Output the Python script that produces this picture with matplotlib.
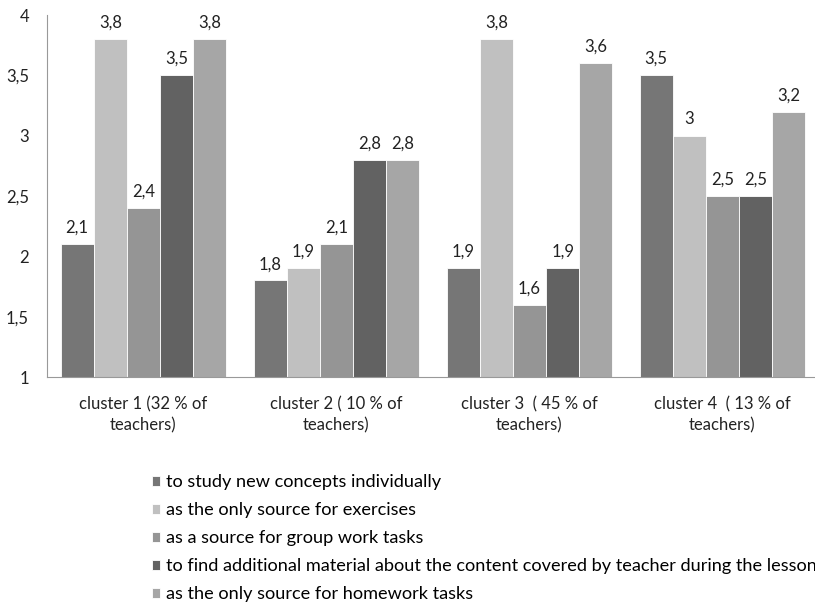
import matplotlib

matplotlib.use("Agg")

import matplotlib.pyplot as plt
import matplotlib.patheffects as pe
import numpy as np

clusters = [
    "cluster 1 (32 % of\nteachers)",
    "cluster 2 ( 10 % of\nteachers)",
    "cluster 3  ( 45 % of\nteachers)",
    "cluster 4  ( 13 % of\nteachers)",
]
series_names = [
    "to study new concepts individually",
    "as the only source for exercises",
    "as a source for group work tasks",
    "to find additional material about the content covered by teacher during the lesson",
    "as the only source for homework tasks",
]
study_new = [2.1, 1.8, 1.9, 3.5]
only_exercises = [3.8, 1.9, 3.8, 3.0]
group_work = [2.4, 2.1, 1.6, 2.5]
additional = [3.5, 2.8, 1.9, 2.5]
homework = [3.8, 2.8, 3.6, 3.2]

values = [study_new, only_exercises, group_work, additional, homework]
colors = ["#767676", "#c0c0c0", "#959595", "#626262", "#a6a6a6"]

plt.rcParams["font.family"] = ["Lato", "DejaVu Sans"]

fig = plt.figure(figsize=(8.15, 6.05), dpi=100)
ax = fig.add_axes([47 / 815, 228 / 605, 772 / 815, 362 / 605])

x = np.arange(len(clusters))
width = 0.172
shadow = [pe.SimplePatchShadow(offset=(1.5, -0.5), shadow_rgbFace="#bbbbbb", alpha=0.6), pe.Normal()]
for i, (vals, name, col) in enumerate(zip(values, series_names, colors)):
    pos = x + (i - 2) * width
    bars = ax.bar(pos, np.array(vals) - 1, width, bottom=1, color=col,
                  edgecolor="white", linewidth=0.6, label=name)
    for b in bars:
        b.set_path_effects(shadow)
    for p, v in zip(pos, vals):
        ax.annotate(f"{v:g}".replace(".", ","), (p, v), xytext=(0, 6),
                    textcoords="offset points", ha="center", va="bottom",
                    fontsize=12, color="#222222")

ax.set_ylim(1, 4)
ax.set_xlim(-0.5, 3.5)
ax.set_yticks([1, 1.5, 2, 2.5, 3, 3.5, 4])
ax.set_yticklabels(["1", "1,5", "2", "2,5", "3", "3,5", "4"])
ax.set_xticks(x)
ax.set_xticklabels(clusters, fontsize=12, linespacing=1.35)
ax.tick_params(axis="both", length=0, colors="#222222", labelsize=12)
ax.tick_params(axis="y", pad=13)
ax.tick_params(axis="x", pad=14)
for side in ["top", "right"]:
    ax.spines[side].set_visible(False)
ax.spines["left"].set_color("#999999")
ax.spines["bottom"].set_color("#999999")

handles, labels = ax.get_legend_handles_labels()
for h in handles:
    for b in h:
        b.set_path_effects([])
fig.legend(handles, labels, loc="upper left", bbox_to_anchor=(145 / 815, 1 - 467 / 605),
           frameon=False, fontsize=13.1, handlelength=0.45, handleheight=0.45,
           handletextpad=0.3, labelspacing=0.66, borderaxespad=0)

fig.savefig("out.png", dpi=100)
